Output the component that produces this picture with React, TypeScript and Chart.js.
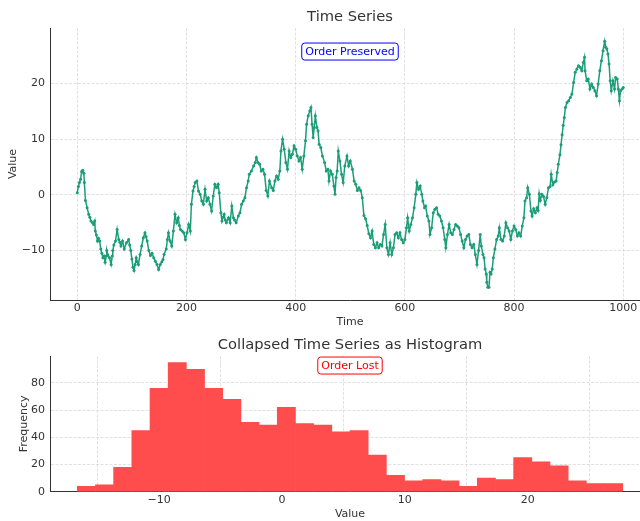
import React, { useEffect, useRef } from 'react';
import { Chart, registerables } from 'chart.js';
Chart.register(...registerables);

// ---- Time series ----
const timeIdx = [
  0, 2, 4, 6, 8, 10, 12, 13, 15, 18, 21, 23, 25, 28, 30, 32, 33, 35, 37, 39, 41, 43, 45, 47, 49, 51, 53, 54, 56, 59,
  62, 64, 65, 67, 70, 73, 76, 78, 80, 83, 86, 90, 94, 96, 98, 100, 102, 104, 106, 108, 110, 112, 115, 118, 121, 124,
  126, 128, 131, 134, 137, 140, 143, 146, 149, 152, 155, 157, 159, 163, 165, 167, 170, 173, 176, 179, 182, 185, 187,
  189, 192, 195, 198, 201, 204, 207, 209, 212, 214, 216, 219, 222, 225, 228, 231, 234, 237, 240, 243, 246, 249, 252,
  255, 258, 260, 263, 265, 267, 269, 271, 273, 277, 280, 283, 286, 288, 291, 295, 298, 301, 304, 307, 310, 313, 315,
  319, 323, 326, 328, 331, 334, 337, 340, 343, 346, 349, 352, 356, 359, 362, 365, 368, 371, 373, 376, 379, 382, 385,
  388, 391, 394, 397, 400, 403, 406, 409, 412, 415, 418, 420, 423, 426, 428, 430, 432, 434, 436, 439, 441, 443, 446,
  449, 453, 456, 459, 461, 464, 467, 470, 472, 474, 476, 478, 481, 484, 487, 490, 494, 497, 500, 504, 507, 510, 513,
  516, 519, 522, 525, 528, 531, 534, 537, 540, 543, 546, 549, 552, 555, 558, 561, 564, 567, 570, 573, 576, 579, 582,
  585, 588, 591, 594, 597, 600, 603, 605, 608, 611, 614, 617, 620, 622, 625, 628, 631, 633, 636, 638, 641, 644, 646,
  649, 652, 655, 658, 661, 664, 667, 670, 673, 675, 678, 681, 684, 687, 690, 693, 696, 699, 702, 705, 708, 711, 714,
  717, 720, 723, 726, 729, 732, 735, 738, 740, 743, 745, 747, 749, 750, 752, 754, 756, 758, 760, 762, 765, 768, 771,
  773, 776, 779, 782, 785, 788, 791, 794, 797, 800, 803, 806, 809, 812, 815, 818, 820, 823, 825, 828, 831, 833, 836,
  839, 842, 844, 846, 848, 851, 854, 857, 860, 863, 866, 868, 871, 874, 877, 879, 881, 884, 886, 888, 890, 892, 894,
  897, 900, 903, 906, 909, 912, 915, 918, 921, 924, 927, 929, 930, 933, 936, 939, 942, 945, 948, 951, 954, 957, 960,
  963, 966, 968, 970, 972, 974, 976, 978, 981, 984, 986, 989, 991, 993, 995, 998, 1000,
];
const values = [
  0.4, 1.5, 2.2, 2.8, 4.2, 4.4, 3.9, 2.2, -1.0, -2.3, -3.5, -4.0, -4.7, -5.0, -5.3, -4.7, -6.5, -7.2, -8.3, -7.8, -8.3,
  -9.7, -10.5, -11.3, -11.0, -12.1, -11.0, -10.0, -10.8, -11.3, -12.5, -11.0, -10.0, -9.0, -8.3, -6.2, -8.0, -8.5,
  -9.2, -8.3, -9.7, -8.6, -8.0, -9.0, -10.0, -11.5, -13.0, -13.6, -12.5, -11.3, -12.0, -12.5, -10.7, -9.2, -7.7, -6.8,
  -7.5, -8.3, -10.0, -10.9, -10.5, -11.3, -11.9, -12.5, -13.4, -12.5, -12.0, -11.6, -10.7, -9.7, -8.0, -6.8, -8.3,
  -9.2, -6.5, -3.5, -5.0, -4.1, -5.5, -6.2, -6.5, -6.8, -8.0, -6.8, -5.3, -6.5, -1.7, 0.7, 1.5, 2.2, 2.5, 0.7, 0.1,
  -1.1, -1.7, 1.0, -1.1, -0.5, -1.7, -2.9, -0.2, 1.9, 1.3, 1.9, 0.4, -3.2, -4.7, -4.0, -3.5, -4.5, -5.0, -4.1, -5.0,
  -2.0, -4.1, -4.5, -5.0, -3.8, -3.2, -1.7, -1.1, -0.5, 1.3, 2.5, 3.7, 4.3, 5.2, 5.8, 6.7, 5.8, 5.5, 4.3, 4.6, 3.7,
  0.8, -0.2, 2.5, 1.3, 0.8, 2.5, 3.4, 2.8, 4.3, 7.9, 10.0, 8.2, 5.8, 4.6, 7.9, 6.7, 7.3, 8.8, 8.2, 7.0, 6.1, 6.7, 4.6,
  7.0, 9.7, 12.7, 14.2, 15.1, 15.7, 12.7, 10.3, 12.1, 14.2, 12.1, 11.5, 9.1, 8.5, 7.0, 5.8, 4.3, 4.6, 2.5, 4.3, 3.7,
  1.6, 0.1, 3.1, 4.3, 7.9, 6.1, 3.7, 2.2, 5.2, 7.0, 5.2, 6.1, 4.6, 2.5, 1.9, 0.8, 1.3, 0.8, -0.5, -3.7, -4.3, -5.5,
  -7.0, -7.7, -6.5, -8.9, -9.5, -8.6, -9.5, -8.9, -9.2, -7.1, -5.3, -9.5, -10.7, -8.6, -10.7, -9.5, -7.1, -6.8, -7.7,
  -6.8, -8.0, -8.6, -8.0, -5.9, -4.1, -6.5, -5.3, -4.1, -2.3, 0.1, 2.2, 1.0, 1.6, 0.1, -1.1, -2.3, -2.0, -3.8, -4.7,
  -7.1, -5.9, -3.2, -2.6, -2.3, -3.5, -3.8, -4.7, -5.9, -8.0, -9.5, -7.1, -5.3, -6.8, -7.1, -6.2, -5.3, -5.6, -5.9,
  -7.1, -8.3, -9.5, -8.0, -7.4, -7.1, -8.9, -9.5, -8.9, -10.7, -12.5, -10.0, -7.1, -9.2, -10.7, -11.3, -13.3, -14.2,
  -15.7, -16.6, -16.6, -13.9, -14.2, -13.3, -11.3, -9.7, -8.0, -7.4, -5.9, -8.0, -8.3, -7.4, -5.0, -5.9, -6.5, -8.0,
  -6.5, -5.6, -6.2, -7.4, -6.8, -7.4, -5.6, -4.1, -1.1, -0.5, 1.3, 0.1, -2.9, -3.8, -2.5, -3.2, -2.3, -2.8, 0.2,
  -1.0, 0.1, -0.3, -1.7, -0.5, 1.3, 1.5, 3.7, 1.8, 2.3, 2.5, 4.0, 5.5, 7.2, 9.0, 10.8, 12.5, 13.9, 15.7, 16.6, 16.9,
  17.5, 18.1, 20.2, 22.0, 22.6, 23.2, 22.9, 22.3, 23.8, 24.7, 22.3, 20.5, 20.8, 19.0, 19.9, 19.3, 18.7, 17.8, 19.9,
  22.3, 24.1, 25.9, 27.6, 26.5, 26.2, 25.3, 23.5, 20.5, 18.7, 20.5, 19.0, 21.1, 20.8, 19.0, 16.9, 18.7, 19.0, 19.3,
];
const timeTicks = [0, 200, 400, 600, 800, 1000];
const valueTicks = [-10, 0, 10, 20];

// ---- Histogram ----
const binEdges = [
  -16.66, -15.18, -13.7, -12.22, -10.74, -9.26, -7.78, -6.3, -4.82, -3.34, -1.86, -0.38, 1.1, 2.58, 4.06, 5.54,
  7.02, 8.5, 9.98, 11.46, 12.94, 14.42, 15.9, 17.38, 18.86, 20.34, 21.82, 23.3, 24.78, 26.26, 27.74,
];
const binCounts = [4, 5, 18, 45, 76, 95, 90, 76, 68, 51, 49, 62, 50, 49, 44, 45, 27, 12, 8, 9, 8, 4, 10, 9, 25, 22, 19, 8, 6, 6];
const histXTicks = [-10, 0, 10, 20];
const histYTicks = [0, 20, 40, 60, 80];

const FONT = "'DejaVu Sans', sans-serif";
const TEXT = '#333333';
const fmt = (v: number) => (v < 0 ? '\u2212' + Math.abs(v) : String(v));

const noteBox = {
  id: 'noteBox',
  afterDraw(chart: any, _args: any, opts: any) {
    const { ctx, chartArea } = chart;
    const cx = (chartArea.left + chartArea.right) / 2;
    const cy = chartArea.top + opts.offsetY;
    ctx.save();
    ctx.font = `11px ${FONT}`;
    const w = ctx.measureText(opts.text).width + 7;
    const h = 17;
    ctx.beginPath();
    if (ctx.roundRect) ctx.roundRect(cx - w / 2, cy - h / 2, w, h, 3);
    else ctx.rect(cx - w / 2, cy - h / 2, w, h);
    ctx.fillStyle = '#ffffff';
    ctx.fill();
    ctx.lineWidth = 1;
    ctx.strokeStyle = opts.color;
    ctx.stroke();
    ctx.fillStyle = opts.color;
    ctx.textAlign = 'center';
    ctx.textBaseline = 'middle';
    ctx.fillText(opts.text, cx, cy + 0.5);
    ctx.restore();
  },
};

function makeScale(o: {
  min: number; max: number; ticks: number[]; title: string; titlePad: any; size: number; tickPad: number; horizontal: boolean;
}) {
  return {
    type: 'linear',
    min: o.min,
    max: o.max,
    offset: false,
    afterBuildTicks: (s: any) => {
      s.ticks = o.ticks.map((v) => ({ value: v }));
    },
    afterFit: (s: any) => {
      if (o.horizontal) s.height = o.size;
      else s.width = o.size;
    },
    grid: { color: '#d9d9d9', lineWidth: 0.8, drawTicks: false },
    border: { display: true, color: '#333333', width: 1, dash: [3, 1.5] },
    ticks: {
      color: TEXT,
      font: { family: FONT, size: 11 },
      padding: o.tickPad,
      maxRotation: 0,
      autoSkip: false,
      callback: (v: any) => fmt(Number(v)),
    },
    title: { display: true, text: o.title, color: TEXT, font: { family: FONT, size: 11 }, padding: o.titlePad },
  };
}

export default function App() {
  const topRef = useRef<HTMLCanvasElement>(null);
  const botRef = useRef<HTMLCanvasElement>(null);

  useEffect(() => {
    Chart.defaults.font.family = FONT;
    const linePoints = timeIdx.map((t, i) => ({ x: t, y: values[i] }));
    const top = new Chart(topRef.current as HTMLCanvasElement, {
      type: 'line',
      data: {
        datasets: [
          {
            data: linePoints,
            borderColor: '#1b9e77',
            backgroundColor: '#1b9e77',
            borderWidth: 1.5,
            pointRadius: 1.5,
            pointBorderWidth: 0,
            pointBackgroundColor: '#1b9e77',
            tension: 0,
          },
        ],
      },
      options: {
        responsive: false,
        animation: false,
        layout: { padding: { left: 0, right: 10, top: 0, bottom: 0 } },
        plugins: {
          legend: { display: false },
          tooltip: { enabled: false },
          title: {
            display: true,
            fullSize: false,
            text: 'Time Series',
            color: TEXT,
            font: { family: FONT, size: 14.7, weight: 'normal' },
            padding: { top: 8.6, bottom: 1.8 },
          },
          noteBox: { text: 'Order Preserved', color: '#0000ff', offsetY: 23.5 },
        } as any,
        scales: {
          x: makeScale({ min: -49.95, max: 1048.95, ticks: timeTicks, title: 'Time', titlePad: { top: 0, bottom: 1.4 }, size: 30, tickPad: 1.5, horizontal: true }) as any,
          y: makeScale({ min: -18.88, max: 29.96, ticks: valueTicks, title: 'Value', titlePad: { top: 6.4, bottom: 0 }, size: 50, tickPad: 5, horizontal: false }) as any,
        },
      },
      plugins: [noteBox],
    });

    const barPoints = binCounts.map((c, i) => ({ x: (binEdges[i] + binEdges[i + 1]) / 2, y: c }));
    const bot = new Chart(botRef.current as HTMLCanvasElement, {
      type: 'bar',
      data: {
        datasets: [
          {
            data: barPoints,
            backgroundColor: '#ff4d4d',
            borderWidth: 0,
            barPercentage: 1,
            categoryPercentage: 1,
          },
        ],
      },
      options: {
        responsive: false,
        animation: false,
        layout: { padding: { left: 0, right: 10, top: 0, bottom: 0 } },
        plugins: {
          legend: { display: false },
          tooltip: { enabled: false },
          title: {
            display: true,
            fullSize: false,
            text: 'Collapsed Time Series as Histogram',
            color: TEXT,
            font: { family: FONT, size: 14.7, weight: 'normal' },
            padding: { top: 6.2, bottom: 2.2 },
          },
          noteBox: { text: 'Order Lost', color: '#ff0000', offsetY: 9.5 },
        } as any,
        scales: {
          x: makeScale({ min: -18.88, max: 29.96, ticks: histXTicks, title: 'Value', titlePad: { top: 0, bottom: 0.4 }, size: 29.3, tickPad: 1.5, horizontal: true }) as any,
          y: makeScale({ min: 0, max: 99.75, ticks: histYTicks, title: 'Frequency', titlePad: { top: 17.4, bottom: 0 }, size: 50, tickPad: 5, horizontal: false }) as any,
        },
      },
      plugins: [noteBox],
    });

    return () => {
      top.destroy();
      bot.destroy();
    };
  }, []);

  return (
    <div style={{ position: 'absolute', left: 0, top: 0, width: 640, height: 521, overflow: 'hidden', background: '#ffffff' }}>
      <canvas ref={topRef} width={660} height={330} style={{ position: 'absolute', left: 0, top: 0, width: 660, height: 330 }} />
      <canvas ref={botRef} width={660} height={191} style={{ position: 'absolute', left: 0, top: 330, width: 660, height: 191 }} />
    </div>
  );
}
